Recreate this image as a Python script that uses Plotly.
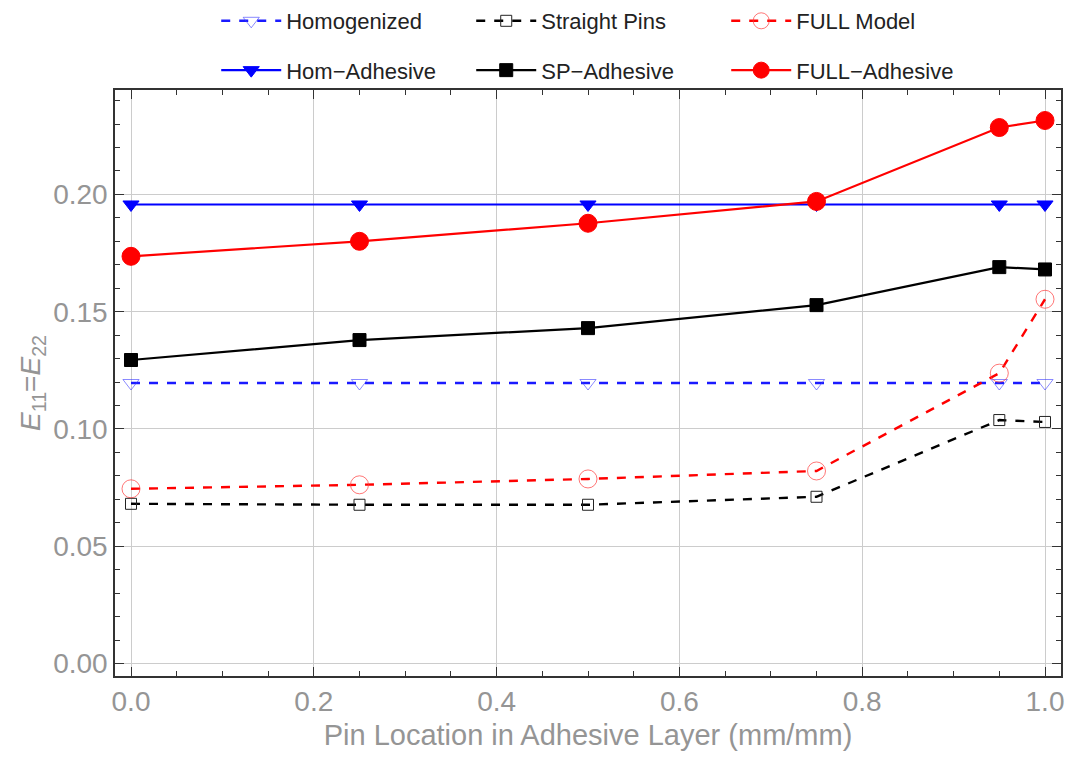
import plotly.graph_objects as go

x_vals = [0.0, 0.25, 0.5, 0.75, 0.95, 1.0]
homogenized = [0.1196, 0.1196, 0.1196, 0.1196, 0.1196, 0.1196]
straight_pins = [0.0681, 0.0677, 0.0677, 0.0711, 0.1038, 0.1030]
full_model = [0.0745, 0.0762, 0.0787, 0.0821, 0.1238, 0.1553]
hom_adhesive = [0.1957, 0.1957, 0.1957, 0.1957, 0.1957, 0.1957]
sp_adhesive = [0.1294, 0.1379, 0.1430, 0.1528, 0.1690, 0.1680]
full_adhesive = [0.1736, 0.1800, 0.1877, 0.1970, 0.2285, 0.2315]

fig = go.Figure()

def add(name, y, color, dash, symbol, size, legend, mcolor=None, lw=2.2):
    fig.add_trace(go.Scatter(
        x=x_vals, y=y, name=name, mode="lines+markers",
        line=dict(color=color, dash=dash, width=lw),
        marker=dict(symbol=symbol, size=size, color=mcolor or color,
                    line=dict(width=1, color=mcolor or color)),
        legend=legend,
    ))

add("Homogenized", homogenized, "#1a1aff", "dash", "triangle-down-open", 14, "legend", mcolor="rgba(60,60,255,0.6)", lw=2.6)
add("Straight Pins", straight_pins, "black", "dash", "square-open", 11, "legend", mcolor="#222222", lw=2.4)
add("FULL Model", full_model, "red", "dash", "circle-open", 18, "legend", mcolor="rgba(255,60,60,0.7)", lw=2.4)
add("Hom\u2212Adhesive", hom_adhesive, "#0000ff", "solid", "triangle-down", 14, "legend2")
add("SP\u2212Adhesive", sp_adhesive, "black", "solid", "square", 13, "legend2")
add("FULL\u2212Adhesive", full_adhesive, "red", "solid", "circle", 18, "legend2")

gray = "#959595"
tick_font = dict(family="Liberation Sans, Arial", size=28, color=gray)
axis_common = dict(
    showline=True, linecolor="#333333", linewidth=1.5, mirror="ticks",
    ticks="inside", ticklen=9, tickcolor="#333333", tickwidth=1,
    showgrid=True, gridcolor="#cccccc", gridwidth=1,
    zeroline=False,
    tickfont=tick_font,
)

fig.update_xaxes(
    range=[-0.0175, 1.0175], tickvals=[0, 0.2, 0.4, 0.6, 0.8, 1.0],
    ticktext=["0.0", "0.2", "0.4", "0.6", "0.8", "1.0"],
    minor=dict(dtick=0.05, ticks="inside", ticklen=5, tickcolor="#333333", showgrid=False),
    title=dict(text="Pin Location in Adhesive Layer (mm/mm)",
               font=dict(family="Liberation Sans, Arial", size=29, color=gray),
               standoff=8),
    **axis_common,
)
fig.update_yaxes(
    range=[-0.0053, 0.2445], tickvals=[0, 0.05, 0.10, 0.15, 0.20],
    ticktext=["0.00", "0.05", "0.10", "0.15", "0.20"],
    minor=dict(dtick=0.01, ticks="inside", ticklen=5, tickcolor="#333333", showgrid=False),
    title=dict(text="<i>E</i><sub>11</sub>=<i>E</i><sub>22</sub>",
               font=dict(family="Liberation Sans, Arial", size=28, color=gray),
               standoff=4),
    **axis_common,
)

legend_font = dict(family="Liberation Sans, Arial", size=22, color="#222222")
leg_common = dict(orientation="h", x=0.107, yref="container", yanchor="top",
                  xanchor="left", font=legend_font, entrywidth=180,
                  entrywidthmode="pixels", itemwidth=60, bgcolor="rgba(0,0,0,0)")
fig.update_layout(
    width=1066, height=759,
    margin=dict(l=115, r=5, t=90, b=83, autoexpand=False),
    plot_bgcolor="white", paper_bgcolor="white",
    legend=dict(y=1.0, **leg_common),
    legend2=dict(y=0.935, **leg_common),
)

fig.write_html("out.html")
